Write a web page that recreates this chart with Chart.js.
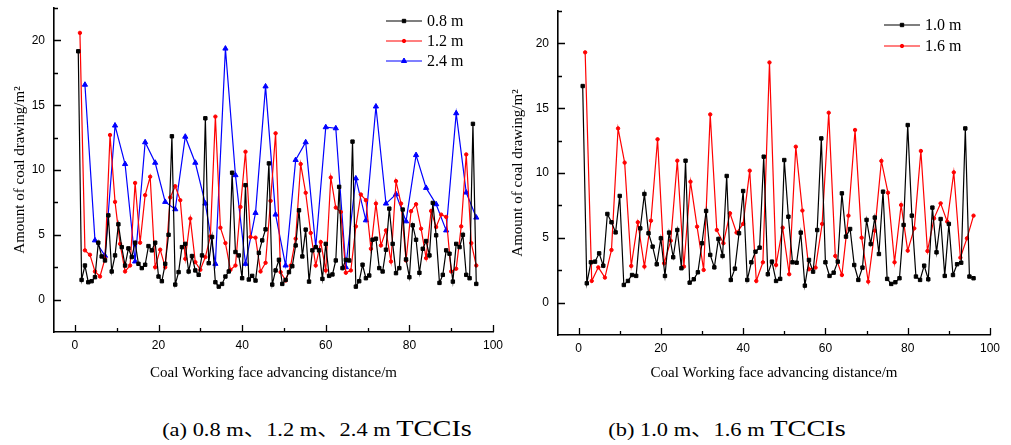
<!DOCTYPE html>
<html><head><meta charset="utf-8">
<script src="https://cdn.jsdelivr.net/npm/chart.js@4/dist/chart.umd.min.js"></script>
<style>
html,body{margin:0;padding:0;background:#fff;width:1011px;height:445px;overflow:hidden;position:relative;}
canvas{position:absolute;top:0;}
#c1{left:0;}
#c2{left:505px;}
.cap{position:absolute;top:413px;line-height:30px;font-family:'Liberation Serif','Times New Roman','Noto Sans CJK SC',serif;font-size:19px;white-space:nowrap;transform:translateX(-50%) scaleX(1.18);color:#000;}
.cap .big{font-size:24px;}
</style></head><body>
<canvas id="c1" width="505" height="392" style="width:505px;height:392px"></canvas>
<canvas id="c2" width="506" height="392" style="width:506px;height:392px"></canvas>
<div class="cap" style="left:317px">(a) 0.8 m、1.2 m、2.4 m <span class="big">TCCIs</span></div>
<div class="cap" style="left:727px">(b) 1.0 m、1.6 m <span class="big">TCCIs</span></div>
<script>
// ---------- data ----------
const xTickValues = [0, 20, 40, 60, 80, 100];
const xMinorTicks = [10, 30, 50, 70, 90];
const yTickValues = [0, 5, 10, 15, 20];
const yMinorTicks = [2.5, 7.5, 12.5, 17.5, 22.5];
const xTitle = 'Coal Working face advancing distance/m';
const yTitle = 'Amount of coal drawing/m²';

// spacing (m) between successive TCCIs of each series
const spacing08 = 0.8, spacing12 = 1.2, spacing24 = 2.4, spacing10 = 1.0, spacing16 = 1.6;

const coal08 = [19.16,1.52,2.63,1.34,1.42,1.73,4.39,3.33,3.02,6.5,2.17,3.41,5.81,4.05,2.63,3.95,3.28,4.39,2.76,2.43,
  2.69,4.13,3.8,4.39,1.78,1.42,2.76,5.0,12.6,1.16,2.12,4.05,4.3,2.17,3.36,2.25,1.91,3.41,13.99,2.81,
  4.83,1.34,1.0,1.21,1.78,2.17,9.79,3.67,3.41,1.65,8.83,1.55,1.83,1.47,3.61,4.57,5.42,10.51,1.16,2.25,
  3.07,1.21,1.52,2.12,2.58,4.18,6.89,3.33,5.4,1.39,3.8,4.05,3.8,1.6,4.3,1.83,1.94,3.02,8.7,2.43,
  3.07,3.02,12.19,1.0,1.42,2.69,1.65,1.86,4.62,4.7,2.43,2.17,3.85,7.02,4.3,2.04,2.43,6.95,3.1,1.73,
  5.73,4.62,2.07,3.92,4.52,3.41,7.46,4.96,1.29,1.91,3.8,3.54,1.39,4.3,4.05,5.0,1.91,1.65,13.56,1.21];
const coal12 = [20.58,3.8,3.46,2.17,1.78,3.15,12.7,7.54,4.3,2.17,2.63,9.0,4.39,8.06,9.48,2.5,3.85,2.5,7.88,8.75,
  7.67,3.15,6.25,2.89,2.3,3.28,4.88,14.12,5.55,4.36,2.3,2.63,7.15,11.41,4.83,4.78,2.17,2.84,7.62,12.83,
  2.12,1.47,2.63,4.7,10.46,8.24,5.14,2.63,4.44,2.25,9.42,7.1,6.76,2.07,2.25,5.65,8.11,7.67,3.92,7.41,
  4.18,5.34,2.94,9.14,7.41,3.02,6.82,7.36,5.47,3.2,6.84,5.6,6.56,6.38,2.17,2.38,5.65,11.2,4.36,2.63];
const coal24 = [16.58,4.57,3.38,13.43,10.46,2.94,12.14,10.56,7.54,6.97,12.57,10.56,7.41,2.76,19.37,9.6,2.76,6.69,16.45,6.56,
  2.63,10.77,12.14,4.05,13.3,13.22,2.5,9.35,6.12,14.9,7.41,8.13,6.04,11.15,8.62,7.36,5.34,14.38,8.26,6.33];
const coal10 = [16.71,1.49,3.11,3.16,3.8,2.85,6.84,6.2,5.42,8.23,1.36,1.67,2.13,2.06,5.73,8.38,5.35,4.32,2.96,4.96,
  2.06,5.4,3.5,5.6,2.65,10.95,1.54,1.8,2.34,4.58,7.07,3.68,2.72,4.91,3.6,9.77,1.75,2.62,5.35,8.61,
  1.75,3.11,3.93,4.24,11.26,2.19,3.16,1.67,1.83,11.0,6.63,3.11,3.08,5.4,1.31,3.29,2.39,5.6,12.67,3.11,
  2.06,2.31,3.16,8.43,5.09,5.68,2.9,1.75,2.7,6.38,4.52,6.56,3.75,8.56,1.83,1.44,1.57,1.88,5.99,13.7,
  6.71,2.01,1.75,2.85,1.8,7.33,3.88,6.45,2.06,6.07,2.13,2.96,3.08,13.44,2.01,1.88];
const coal16 = [19.31,1.67,2.72,1.93,4.06,13.44,10.8,2.83,6.2,2.78,6.32,12.6,3.03,4.78,10.95,2.78,9.33,5.86,2.52,14.52,
  5.6,4.58,6.89,5.4,6.07,10.18,1.67,3.11,18.53,2.9,5.78,2.19,12.03,7.1,2.57,2.7,6.07,14.65,3.6,2.13,
  6.71,13.32,5.01,1.62,5.55,10.93,8.48,3.11,7.53,4.01,5.73,11.7,3.98,6.5,7.66,6.25,10.05,3.47,4.96,6.71];

// ---------- helpers ----------
function toPoints(values, step) {
  return values.map((v, i) => ({ x: +((i + 1) * step).toFixed(2), y: v }));
}
function series(label, values, step, color, style, radius) {
  return {
    label, data: toPoints(values, step),
    borderColor: color, backgroundColor: color, borderWidth: 1.2,
    pointStyle: style, pointRadius: radius, pointBorderWidth: 1,
    pointBackgroundColor: color, pointBorderColor: color, tension: 0
  };
}

function drawMarker(ctx, style, r, x, y) {
  ctx.beginPath();
  if (style === 'rect') { const s = r * Math.SQRT1_2; ctx.rect(x - s, y - s, 2 * s, 2 * s); }
  else if (style === 'triangle') {
    ctx.moveTo(x, y - r); ctx.lineTo(x + r * 0.866, y + r * 0.5); ctx.lineTo(x - r * 0.866, y + r * 0.5); ctx.closePath();
  } else { ctx.arc(x, y, r, 0, Math.PI * 2); }
  ctx.fill(); ctx.stroke();
}

const seriesLegend = {
  id: 'seriesLegend',
  afterDraw(chart, args, opts) {
    const ctx = chart.ctx;
    ctx.save();
    chart.data.datasets.forEach((ds, i) => {
      const y = opts.y[i];
      ctx.strokeStyle = ds.borderColor; ctx.lineWidth = ds.borderWidth;
      ctx.beginPath(); ctx.moveTo(opts.x, y); ctx.lineTo(opts.x + opts.len, y); ctx.stroke();
      ctx.fillStyle = ds.pointBackgroundColor; ctx.lineWidth = 1;
      drawMarker(ctx, ds.pointStyle, ds.pointRadius, opts.x + opts.len / 2, y);
      ctx.fillStyle = '#000'; ctx.font = '16px "Liberation Serif"';
      ctx.textBaseline = 'middle'; ctx.textAlign = 'left';
      ctx.fillText(ds.label, opts.textX, y + 1);
    });
    ctx.restore();
  }
};

const inwardTicks = {
  id: 'inwardTicks',
  afterDraw(chart) {
    const { ctx, chartArea: a, scales: { x, y } } = chart;
    ctx.save(); ctx.strokeStyle = '#000'; ctx.lineWidth = 1.3;
    ctx.beginPath();
    xTickValues.forEach(v => { const p = Math.round(x.getPixelForValue(v)) + 0.5; ctx.moveTo(p, a.bottom); ctx.lineTo(p, a.bottom - 7); });
    xMinorTicks.forEach(v => { const p = Math.round(x.getPixelForValue(v)) + 0.5; ctx.moveTo(p, a.bottom); ctx.lineTo(p, a.bottom - 4); });
    yTickValues.forEach(v => { const p = Math.round(y.getPixelForValue(v)) + 0.5; ctx.moveTo(a.left, p); ctx.lineTo(a.left + 7, p); });
    yMinorTicks.forEach(v => { const p = Math.round(y.getPixelForValue(v)) + 0.5; ctx.moveTo(a.left, p); ctx.lineTo(a.left + 4, p); });
    ctx.stroke();
    ctx.restore();
  }
};
Chart.register(seriesLegend, inwardTicks);

function noOverhang(s) { s.paddingTop = 0; s.paddingBottom = 0; s.paddingLeft = 0; s.paddingRight = 0; }

function makeChart(id, datasets, cfg) {
  return new Chart(document.getElementById(id), {
    type: 'line',
    data: { datasets },
    options: {
      responsive: false, animation: false,
      layout: { padding: { left: 0, top: cfg.top, right: cfg.right, bottom: 0 } },
      plugins: { legend: { display: false }, tooltip: { enabled: false }, seriesLegend: cfg.legend },
      scales: {
        x: {
          type: 'linear', min: -5, max: 100,
          afterBuildTicks: s => { s.ticks = xTickValues.map(v => ({ value: v })); },
          afterFit: s => { s.height = cfg.xH; noOverhang(s); },
          grid: { display: false, drawTicks: false },
          border: { display: true, color: '#000', width: 1.6 },
          ticks: { color: '#000', font: { family: 'Liberation Sans', size: 12 }, padding: 6, maxRotation: 0, autoSkip: false },
          title: { display: true, text: xTitle, color: '#000', font: { family: 'Liberation Serif', size: 15 }, padding: { top: 0, bottom: 10 } }
        },
        y: {
          type: 'linear', min: -2.5, max: 22.5,
          afterBuildTicks: s => { s.ticks = yTickValues.map(v => ({ value: v })); },
          afterFit: s => { s.width = cfg.yW; noOverhang(s); },
          grid: { display: false, drawTicks: false },
          border: { display: true, color: '#000', width: 1.6 },
          ticks: { color: '#000', font: { family: 'Liberation Sans', size: 12 }, padding: 9, autoSkip: false },
          title: { display: true, text: yTitle, color: '#000', font: { family: 'Liberation Serif', size: 15 }, padding: { top: cfg.yTitlePad, bottom: 0 } }
        }
      }
    }
  });
}

makeChart('c1', [
  series('0.8 m', coal08, spacing08, '#000000', 'rect', 2.4),
  series('1.2 m', coal12, spacing12, '#ff0000', 'circle', 1.7),
  series('2.4 m', coal24, spacing24, '#0000ff', 'triangle', 3)
], { top: 8, right: 12, xH: 60, yW: 54, yTitlePad: 11, legend: { x: 386, len: 36, textX: 427, y: [21, 41, 61] } });

makeChart('c2', [
  series('1.0 m', coal10, spacing10, '#000000', 'rect', 2.4),
  series('1.6 m', coal16, spacing16, '#ff0000', 'circle', 1.7)
], { top: 11, right: 21, xH: 57, yW: 53, yTitlePad: 4, legend: { x: 379, len: 36, textX: 420, y: [25, 46] } });
</script>
</body></html>
